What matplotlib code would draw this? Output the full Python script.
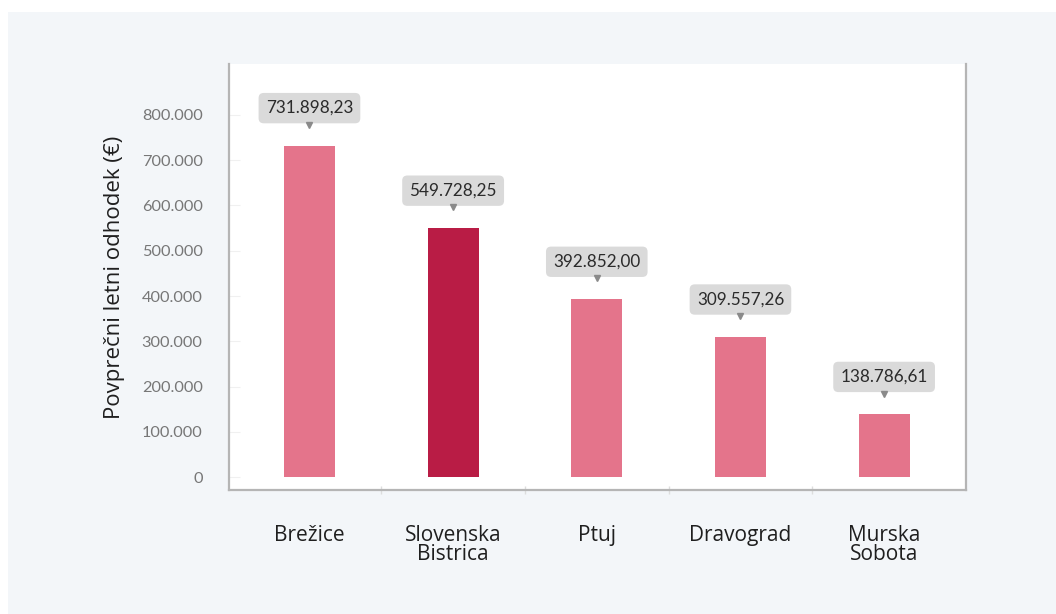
import matplotlib.pyplot as plt
from matplotlib.patches import Rectangle
from matplotlib.ticker import FuncFormatter, FixedLocator
import matplotlib.transforms as mtransforms

# Average annual expense per town
towns = ["Brežice", "Slovenska\nBistrica", "Ptuj", "Dravograd", "Murska\nSobota"]
expenses = [731898.23, 549728.25, 392852.00, 309557.26, 138786.61]
value_labels = ["731.898,23", "549.728,25", "392.852,00", "309.557,26", "138.786,61"]
highlight = "Slovenska\nBistrica"

PINK = "#e4748b"
CRIMSON = "#b91c45"
PANEL = "#f3f6f9"

fig = plt.figure(figsize=(10.56, 6.14), dpi=100)
fig.patch.set_facecolor("white")

# light panel behind the whole chart
fig.patches.append(Rectangle((8 / 1056, 0), 1 - 8 / 1056, 1 - 12 / 614,
                             transform=fig.transFigure, facecolor=PANEL,
                             edgecolor="none", zorder=-10))

ax = fig.add_axes([229 / 1056, 1 - 490 / 614, (966 - 229) / 1056, (490 - 64) / 614])
ax.set_facecolor("white")

x = list(range(len(towns)))
colors = [CRIMSON if t == highlight else PINK for t in towns]
ax.bar(x, expenses, width=0.355, color=colors, zorder=2)

ax.set_xlim(-0.56, 4.57)
ax.set_ylim(-28000, 912000)

# value callouts with a little pointer underneath
box_off = mtransforms.offset_copy(ax.transData, fig=fig, x=0, y=27, units="points")
tip_off = mtransforms.offset_copy(ax.transData, fig=fig, x=0, y=15, units="points")
for xi, v, lab in zip(x, expenses, value_labels):
    ax.text(xi, v, lab, transform=box_off, ha="center", va="center",
            fontsize=12.3, color="#2b2b2b", family="Lato", zorder=4,
            bbox=dict(boxstyle="round,pad=0.42,rounding_size=0.3",
                      facecolor="#dadada", edgecolor="none"))
    ax.plot([xi], [v], marker="v", markersize=5, color="#8a8a8a",
            transform=tip_off, zorder=4, clip_on=False)

# axes styling
ax.spines["top"].set_visible(False)
for side in ["left", "right", "bottom"]:
    ax.spines[side].set_color("#b5b5b5")
    ax.spines[side].set_linewidth(1.6)

ax.yaxis.set_major_locator(FixedLocator(range(0, 800001, 100000)))
ax.yaxis.set_major_formatter(FuncFormatter(lambda v, p: f"{int(v):,}".replace(",", ".")))
ax.tick_params(axis="y", length=8, color="#f0f0f0", direction="in", pad=19,
               labelsize=11.8, labelcolor="#777777")
for t in ax.get_yticklabels():
    t.set_family("Lato")

ax.set_xticks(x)
ax.set_xticklabels(towns, fontsize=15, color="#1f1f1f", family="Open Sans",
                   linespacing=0.92)
ax.tick_params(axis="x", length=0, pad=25)
ax.set_xticks([0.5, 1.5, 2.5, 3.5], minor=True)
ax.tick_params(axis="x", which="minor", length=6, width=1, color="#dddddd",
               direction="inout")

ax.set_ylabel("Povprečni letni odhodek (€)", fontsize=16, color="#1f1f1f",
              family="Open Sans", labelpad=12)

fig.savefig("out.png", dpi=100, facecolor=fig.get_facecolor())
